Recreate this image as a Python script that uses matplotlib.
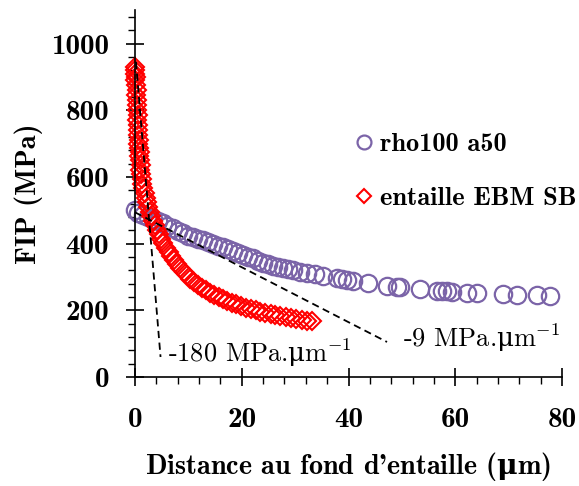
import matplotlib
matplotlib.use("Agg")
import matplotlib.pyplot as plt
from matplotlib.ticker import MultipleLocator

plt.rcParams['axes.unicode_minus'] = False
plt.rcParams['mathtext.fontset'] = 'custom'
plt.rcParams['mathtext.rm'] = 'DejaVu Serif'
plt.rcParams['mathtext.bf'] = 'DejaVu Serif:bold'

# rho100 a50 (circles)
rho_x = [0.0, 0.6, 1.5, 2.4, 3.4, 4.3, 5.2, 6.1, 7.1, 8.0, 9.0, 10.0, 10.9, 11.8,
         12.7, 13.7, 14.6, 15.5, 16.5, 17.4, 18.4, 19.3, 20.2, 21.2, 22.1, 23.0,
         24.0, 25.0, 25.9, 26.8, 27.7, 28.7, 29.6, 31.0, 32.2, 33.7, 35.2, 37.8,
         38.8, 39.7, 40.8, 43.6, 47.2, 49.1, 49.6, 53.4, 56.6, 57.5, 58.5, 59.4,
         62.2, 64.1, 69.0, 71.6, 75.3, 77.7]
rho_y = [500, 493, 485, 480, 474, 467, 461, 453, 446, 438, 431, 424, 419, 414,
         410, 405, 400, 394, 389, 384, 379, 372, 366, 361, 356, 348,
         342, 338, 334, 330, 326, 323, 320, 316, 312, 308, 304, 297,
         294, 291, 288, 281, 274, 270, 269, 263, 259, 258, 257, 256,
         253, 251, 248, 247, 245, 244]

# entaille EBM SB (diamonds)
ebm_x = [0.0, 0.1, 0.0, 0.2, 0.1, 0.2, 0.3, 0.2, 0.3, 0.4, 0.3, 0.5, 0.4, 0.6,
         0.5, 0.6, 0.7, 0.6, 0.8, 0.9, 0.8, 1.0, 1.1, 1.0, 1.2, 1.3, 1.4, 1.6,
         1.8, 2.0, 2.2, 2.5, 2.8, 3.1, 3.4, 3.7, 4.1, 4.5, 4.9, 5.3, 5.8, 6.3,
         6.8, 7.3, 7.9, 8.5, 9.1, 9.7, 10.4, 11.1, 11.8, 12.5, 13.3, 14.1, 14.9,
         15.7, 16.5, 17.3, 18.1, 19.0, 19.9, 20.8, 21.7, 22.6, 23.5, 24.4, 25.4,
         26.3, 27.2, 28.2, 29.2, 30.2, 31.2, 32.2, 33.2]
ebm_y = [930, 920, 910, 900, 890, 875, 860, 845, 830, 815, 800, 785, 770, 755,
         740, 725, 712, 700, 688, 675, 662, 650, 636, 622, 608, 594, 580, 566,
         552, 538, 524, 510, 496, 482, 468, 455, 442, 428, 414, 401, 388, 375,
         362, 350, 338, 326, 315, 305, 295, 285, 276, 268, 260, 253, 246,
         240, 234, 228, 223, 218, 213, 208, 204, 200, 196, 193, 190,
         187, 184, 179, 176, 173, 171, 169, 168]

# slope lines
steep_x = [0.2, 4.8]
steep_y = [945, 60]
shallow_x = [0.0, 47.2]
shallow_y = [494, 105]

purple = '#7B64A8'
red = '#FF0000'
bold_font = ['cmb10', 'DejaVu Serif']
reg_font = ['cmr10', 'DejaVu Serif']

fig = plt.figure(figsize=(5.79, 4.86), dpi=100)
ax = fig.add_axes([0.233, 0.2243, 0.738, 0.7547])

ax.plot(rho_x, rho_y, linestyle='none', marker='o', markersize=12.5,
        markerfacecolor='none', markeredgecolor=purple, markeredgewidth=1.6,
        clip_on=False, label='rho100 a50')
ax.plot(ebm_x, ebm_y, linestyle='none', marker='D', markersize=9.5,
        markerfacecolor='none', markeredgecolor=red, markeredgewidth=1.5,
        clip_on=False, label='entaille EBM SB')

ax.plot(steep_x, steep_y, color='black', linestyle=(0, (4, 2.5)), linewidth=1.3, clip_on=False)
ax.plot(shallow_x, shallow_y, color='black', linestyle=(0, (4, 2.5)), linewidth=1.3, clip_on=False)

ax.text(6.2, 72, r'-180 MPa.$\mathrm{\mu}$m$^{\mathregular{-1}}$', fontsize=19, family=reg_font,
        ha='left', va='center')
ax.text(50.2, 117, r'-9 MPa.$\mathrm{\mu}$m$^{\mathregular{-1}}$', fontsize=19, family=reg_font,
        ha='left', va='center')

ax.set_xlim(0, 80)
ax.set_ylim(0, 1100)
ax.xaxis.set_major_locator(MultipleLocator(20))
ax.xaxis.set_minor_locator(MultipleLocator(4))
ax.yaxis.set_major_locator(MultipleLocator(200))
ax.yaxis.set_minor_locator(MultipleLocator(40))

for s in ['top', 'right']:
    ax.spines[s].set_visible(False)
for s in ['left', 'bottom']:
    ax.spines[s].set_linewidth(1.2)

ax.tick_params(which='major', direction='inout', length=13, width=1.2, pad=12,
               labelsize=21)
ax.tick_params(which='minor', direction='out', length=5, width=1.0)
ax.tick_params(axis='x', which='major', pad=15)
for lab in ax.get_xticklabels() + ax.get_yticklabels():
    lab.set_family(bold_font)

ax.set_xlabel(r"Distance au fond d'entaille ($\mathbf{\mu}$m)", fontsize=20.3, family=bold_font, labelpad=12)
ax.set_ylabel('FIP (MPa)', fontsize=20.5, family=bold_font)
ax.yaxis.set_label_coords(-0.215, 0.5)

leg = ax.legend(loc='upper left', bbox_to_anchor=(0.497, 0.695), frameon=False,
                handlelength=0.5, handletextpad=0.35, labelspacing=1.15,
                markerscale=0.8, borderaxespad=0, prop={'family': bold_font, 'size': 19})

fig.savefig('out.png', dpi=100)
